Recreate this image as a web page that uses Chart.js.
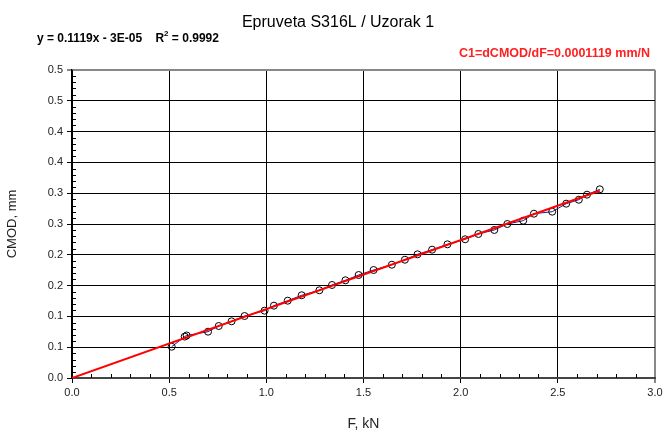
<!DOCTYPE html>
<html>
<head>
<meta charset="utf-8">
<script src="https://cdn.jsdelivr.net/npm/chart.js@4.4.1/dist/chart.umd.min.js"></script>
<style>
  html, body { margin: 0; padding: 0; background: #fff; }
  #chart { display: block; }
</style>
</head>
<body>
<canvas id="chart" width="665" height="434"></canvas>
<script>
// Messpunkte: Kraft F (kN) und CMOD (mm)
const forceKN = [0.513, 0.580, 0.590, 0.700, 0.755, 0.821, 0.888, 0.991, 1.039, 1.110,
                 1.182, 1.273, 1.338, 1.407, 1.475, 1.552, 1.646, 1.713, 1.778, 1.853,
                 1.932, 2.023, 2.091, 2.173, 2.240, 2.322, 2.377, 2.471, 2.543, 2.608,
                 2.650, 2.716];
const cmodMM = [0.0508, 0.0672, 0.0690, 0.0752, 0.0844, 0.0920, 0.1006, 0.1093, 0.1174, 0.1255,
                0.1343, 0.1424, 0.1510, 0.1586, 0.1672, 0.1753, 0.1839, 0.1920, 0.2008, 0.2083,
                0.2170, 0.2252, 0.2338, 0.2403, 0.2500, 0.2554, 0.2667, 0.2700, 0.2830, 0.2894,
                0.2976, 0.3063];

// Trendlinie y = 0.1119x - 3E-05 (Endpunkte)
const fitX = [0, 2.716];
const fitY = [-0.00003, 0.3039];

// Achsenbeschriftungen
const xTickValues = [0, 0.5, 1.0, 1.5, 2.0, 2.5, 3.0];
const xTickLabels = ["0.0", "0.5", "1.0", "1.5", "2.0", "2.5", "3.0"];
const yTickValues = [0, 0.05, 0.1, 0.15, 0.2, 0.25, 0.3, 0.35, 0.4, 0.45, 0.5];
const yTickLabels = ["0.0", "0.1", "0.1", "0.2", "0.2", "0.3", "0.3", "0.4", "0.4", "0.5", "0.5"];

const chartTitle = "Epruveta S316L / Uzorak 1";
const equationText = "y = 0.1119x - 3E-05";
const r2Label = "R";
const r2Value = " = 0.9992";
const complianceText = "C1=dCMOD/dF=0.0001119 mm/N";

const FONT = "'Liberation Sans', Arial, sans-serif";

// kleine Teilstriche + Beschriftungen oberhalb des Diagramms
const decorPlugin = {
    id: "decor",
    afterDatasetsDraw(chart) {
        const ctx = chart.ctx;
        const x = chart.scales.x, y = chart.scales.y;
        const area = chart.chartArea;
        ctx.save();
        ctx.strokeStyle = "#000";
        ctx.lineWidth = 1;
        ctx.beginPath();
        for (let i = 1; i < 30; i++) {
            if (i % 5 === 0) continue;
            const px = Math.round(x.getPixelForValue(i / 10)) + 0.5;
            ctx.moveTo(px, area.bottom);
            ctx.lineTo(px, area.bottom - 4);
        }
        for (let i = 1; i < 50; i++) {
            if (i % 5 === 0) continue;
            const py = Math.round(y.getPixelForValue(i / 100)) + 0.5;
            ctx.moveTo(area.left, py);
            ctx.lineTo(area.left + 4, py);
        }
        ctx.stroke();
        ctx.restore();
    },
    afterDraw(chart) {
        const ctx = chart.ctx;
        ctx.save();
        // Titel (oben leicht abgeschnitten wie im Original)
        ctx.beginPath();
        ctx.rect(0, 13, chart.width, 40);
        ctx.clip();
        ctx.fillStyle = "#000";
        ctx.font = "16px " + FONT;
        ctx.textAlign = "center";
        ctx.textBaseline = "alphabetic";
        ctx.fillText(chartTitle, 338, 27);
        ctx.restore();

        ctx.save();
        ctx.fillStyle = "#000";
        ctx.font = "bold 12px " + FONT;
        ctx.textBaseline = "alphabetic";
        ctx.textAlign = "left";
        let tx = 37;
        ctx.fillText(equationText, tx, 42);
        tx += ctx.measureText(equationText + "    ").width;
        ctx.fillText(r2Label, tx, 42);
        tx += ctx.measureText(r2Label).width;
        ctx.font = "bold 8px " + FONT;
        ctx.fillText("2", tx, 36);
        tx += ctx.measureText("2").width;
        ctx.font = "bold 12px " + FONT;
        ctx.fillText(r2Value, tx, 42);

        ctx.fillStyle = "#ff2020";
        ctx.font = "bold 12.5px " + FONT;
        ctx.textAlign = "right";
        ctx.fillText(complianceText, 650, 57);
        ctx.restore();
    }
};

new Chart(document.getElementById("chart"), {
    type: "scatter",
    data: {
        datasets: [
            {
                label: "Trendlinie",
                data: fitX.map((v, i) => ({ x: v, y: fitY[i] })),
                showLine: true,
                borderColor: "#ff0000",
                borderWidth: 2,
                pointRadius: 0,
                order: 0
            },
            {
                label: "Messung",
                data: forceKN.map((v, i) => ({ x: v, y: cmodMM[i] })),
                showLine: true,
                borderColor: "#1a1a80",
                borderWidth: 1,
                pointRadius: 3.5,
                pointBorderColor: "#000",
                pointBackgroundColor: "rgba(0,0,0,0)",
                pointBorderWidth: 1,
                order: 1
            }
        ]
    },
    options: {
        responsive: false,
        animation: false,
        layout: { padding: { top: 70, right: 10, left: 0, bottom: 0 } },
        plugins: {
            legend: { display: false },
            tooltip: { enabled: false }
        },
        scales: {
            x: {
                type: "linear",
                min: 0,
                max: 3,
                afterBuildTicks: scale => { scale.ticks = xTickValues.map(v => ({ value: v })); },
                afterFit: scale => {
                    scale.height = 56;
                    scale.paddingLeft = 0; scale.paddingRight = 0;
                },
                ticks: {
                    color: "#222",
                    font: { family: FONT, size: 11 },
                    padding: 3,
                    maxRotation: 0,
                    autoSkip: false,
                    callback: (v, i) => xTickLabels[i]
                },
                grid: {
                    color: ctx => ctx.index === xTickValues.length - 1 ? "#888" : "#000",
                    lineWidth: ctx => ctx.index === xTickValues.length - 1 ? 2 : 1,
                    tickLength: 5
                },
                border: { color: "#444", width: 2 },
                title: {
                    display: true,
                    text: "F, kN",
                    color: "#222",
                    font: { family: FONT, size: 14 },
                    padding: { top: 1, bottom: 1 }
                }
            },
            y: {
                type: "linear",
                min: 0,
                max: 0.5,
                afterBuildTicks: scale => { scale.ticks = yTickValues.map(v => ({ value: v })); },
                afterFit: scale => {
                    scale.width = 72;
                    scale.paddingTop = 0; scale.paddingBottom = 0;
                },
                ticks: {
                    color: "#222",
                    font: { family: FONT, size: 11 },
                    padding: 4,
                    autoSkip: false,
                    callback: (v, i) => yTickLabels[i]
                },
                grid: {
                    color: ctx => ctx.index === yTickValues.length - 1 ? "#888" : "#000",
                    lineWidth: ctx => ctx.index === yTickValues.length - 1 ? 2 : 1,
                    tickLength: 5
                },
                border: { color: "#000", width: 1.5 },
                title: {
                    display: true,
                    text: "CMOD, mm",
                    color: "#222",
                    font: { family: FONT, size: 13 },
                    padding: { top: 5, bottom: 0 }
                }
            }
        }
    },
    plugins: [decorPlugin]
});
</script>
</body>
</html>
